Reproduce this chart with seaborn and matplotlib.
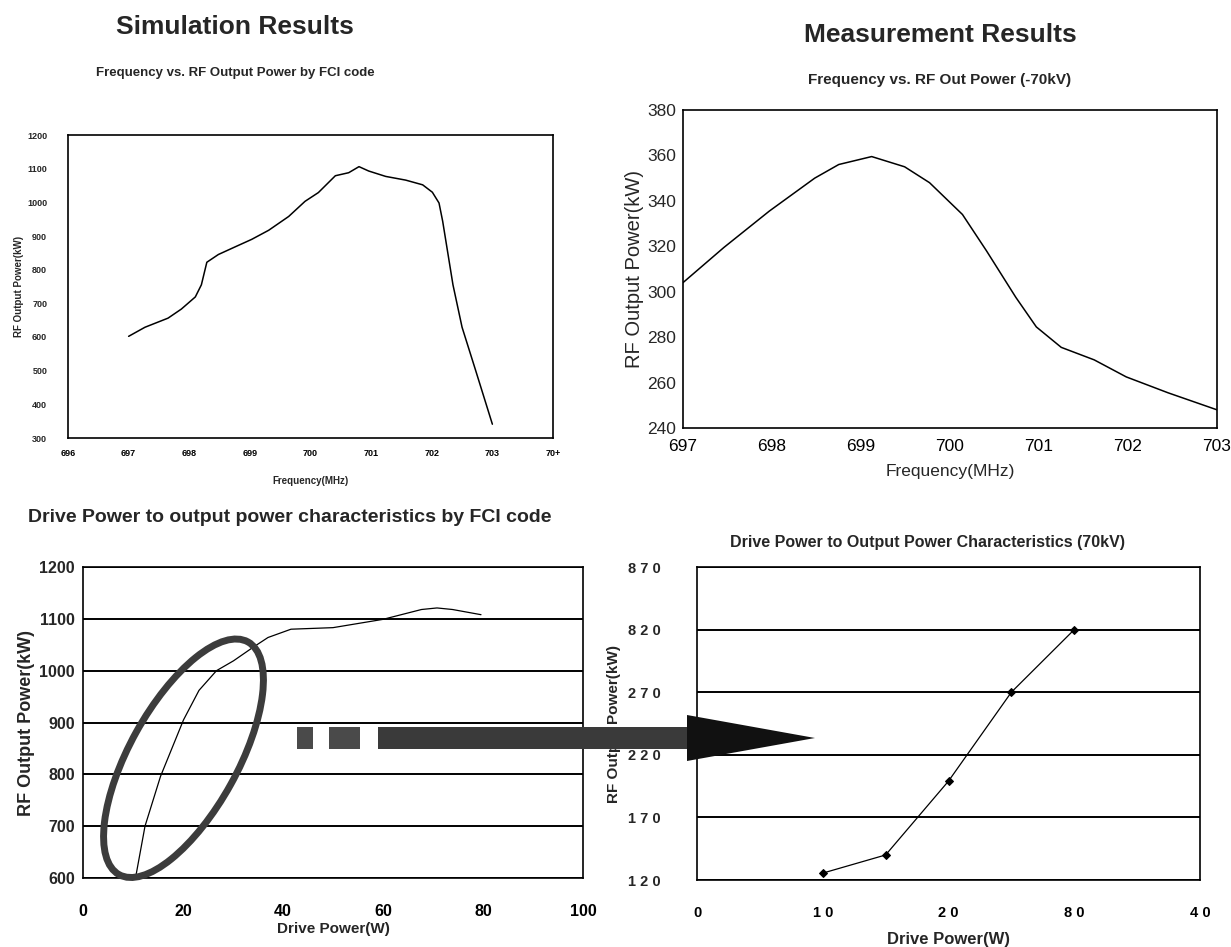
import numpy as np
import pandas as pd
import matplotlib
matplotlib.use("Agg")
import matplotlib.pyplot as plt
import matplotlib.transforms as mtransforms
from matplotlib.patches import Ellipse, Rectangle, Polygon
import seaborn as sns

# ---- data ----
sim_freq = [697.0, 697.27, 697.65, 697.87, 698.1, 698.2, 698.29, 698.48, 698.76, 699.03,
            699.31, 699.64, 699.91, 700.13, 700.41, 700.63, 700.8, 700.96, 701.24, 701.57,
            701.85, 702.01, 702.12, 702.18, 702.35, 702.5, 702.72, 703.0]
sim_power = [602, 629, 656, 683, 719, 755, 822, 845, 868, 890,
             917, 958, 1003, 1029, 1079, 1088, 1106, 1093, 1077, 1066,
             1052, 1030, 998, 944, 755, 629, 503, 341]

meas_freq = [697.0, 697.46, 697.97, 698.48, 698.75, 699.12, 699.49, 699.77, 700.14,
             700.41, 700.74, 700.97, 701.25, 701.62, 701.98, 702.45, 703.0]
meas_power = [304, 319.5, 335.5, 350, 356, 359.5, 355, 348, 334,
              318, 297.5, 284.5, 275.5, 270, 262.5, 255.5, 248]

drive_sim = [10.5, 12.4, 15.5, 20.1, 23.2, 26.7, 30.1, 34, 37, 41.6, 50, 60, 67.7, 70.8, 73.9, 79.6]
out_sim = [600, 700, 796, 905, 962, 1000, 1019, 1045, 1064, 1080, 1083, 1099, 1118, 1121, 1118, 1108]

drive_meas = [10, 15, 20, 25, 30]
out_meas = [125.5, 140, 199, 270, 320]

tl_xticks = [696, 697, 698, 699, 700, 701, 702, 703, 704]
tl_xlabels = ["696", "697", "698", "699", "700", "701", "702", "703", "70+"]
tl_yticks = list(range(300, 1201, 100))
tr_xticks = [697, 698, 699, 700, 701, 702, 703]
tr_yticks = list(range(240, 381, 20))
bl_xticks = [0, 20, 40, 60, 80, 100]
bl_yticks = list(range(600, 1201, 100))
br_xticks = [0, 10, 20, 30, 40]
br_xlabels = ["0", "1 0", "2 0", "8 0", "4 0"]
br_yticks = [120, 170, 220, 270, 320, 370]
br_ylabels = ["1 2 0", "1 7 0", "2 2 0", "2 7 0", "8 2 0", "8 7 0"]

sns.set_theme(style="white")
FONT = ["Liberation Sans", "DejaVu Sans"]
plt.rcParams["font.family"] = FONT
plt.rcParams["axes.edgecolor"] = "black"
plt.rcParams["axes.linewidth"] = 1.2
plt.rcParams["xtick.direction"] = "in"
plt.rcParams["ytick.direction"] = "in"

W, H = 1231, 947
fig = plt.figure(figsize=(W / 100, H / 100), dpi=100, facecolor="white")


def box(l, t, r, b):
    return [l / W, 1 - b / H, (r - l) / W, (b - t) / H]


def style_ticks(ax, size, weight, xpad, ypad):
    for lab in ax.get_xticklabels() + ax.get_yticklabels():
        lab.set_fontsize(size)
        lab.set_fontweight(weight)
    ax.tick_params(axis="x", length=4, width=1, colors="black", pad=xpad)
    ax.tick_params(axis="y", length=0, pad=ypad)


def ftext(x, y, s, **kw):
    fig.text(x / W, 1 - y / H, s, ha="center", va="center", **kw)


# headings
ftext(235, 27, "Simulation Results", fontsize=19, fontweight="bold")
ftext(940, 35, "Measurement Results", fontsize=19, fontweight="bold")

# ---- top left: simulation frequency sweep ----
ax1 = fig.add_axes(box(68, 135, 553, 438))
df1 = pd.DataFrame({"freq": sim_freq, "power": sim_power})
sns.lineplot(data=df1, x="freq", y="power", ax=ax1, color="black", lw=1.1, sort=False)
ax1.set_xlim(696, 704)
ax1.set_ylim(300, 1200)
ax1.set_xticks(tl_xticks, tl_xlabels)
ax1.set_yticks(tl_yticks)
style_ticks(ax1, 6.5, "bold", 8, 15)
ax1.set_xlabel("Frequency(MHz)", fontsize=7, fontweight="bold", labelpad=13)
ax1.set_ylabel("RF Output Power(kW)", fontsize=7, fontweight="bold", labelpad=2)
ftext(235, 73, "Frequency vs. RF Output Power by FCI code", fontsize=9.5, fontweight="bold")

# ---- top right: measured frequency sweep ----
ax2 = fig.add_axes(box(683, 110, 1217, 428))
df2 = pd.DataFrame({"freq": meas_freq, "power": meas_power})
sns.lineplot(data=df2, x="freq", y="power", ax=ax2, color="black", lw=1.1, sort=False)
ax2.set_xlim(697, 703)
ax2.set_ylim(240, 380)
ax2.set_xticks(tr_xticks)
ax2.set_yticks(tr_yticks)
style_ticks(ax2, 12.5, "normal", 8, 5)
ax2.set_xlabel("Frequency(MHz)", fontsize=12.5, labelpad=7)
ax2.set_ylabel("RF Output Power(kW)", fontsize=14.5, labelpad=2)
ftext(940, 80, "Frequency vs. RF Out Power (-70kV)", fontsize=11, fontweight="bold")

# ---- bottom left: simulated drive characteristics ----
ax3 = fig.add_axes(box(83, 567, 583, 878))
df3 = pd.DataFrame({"drive": drive_sim, "out": out_sim})
sns.lineplot(data=df3, x="drive", y="out", ax=ax3, color="black", lw=0.9, sort=False)
ax3.set_xlim(0, 100)
ax3.set_ylim(600, 1200)
ax3.set_xticks(bl_xticks)
ax3.set_yticks(bl_yticks)
ax3.yaxis.grid(True, color="black", lw=1.4)
ax3.set_axisbelow(True)
style_ticks(ax3, 11.5, "bold", 19, 6)
ax3.set_xlabel("Drive Power(W)", fontsize=11, fontweight="bold", labelpad=2)
ax3.set_ylabel("RF Output Power(kW)", fontsize=13, fontweight="bold", labelpad=3)
ftext(290, 517, "Drive Power to output power characteristics by FCI code",
      fontsize=14, fontweight="bold")

# highlight ellipse around the low-drive region (size in inches, placed at a data point)
ell_center = (20.1, 831)
trans = fig.dpi_scale_trans + mtransforms.ScaledTranslation(ell_center[0], ell_center[1], ax3.transData)
ax3.add_patch(Ellipse((0, 0), width=2.66, height=1.08, angle=61, fill=False,
                      edgecolor="#3c3c3c", lw=5, transform=trans, clip_on=False, zorder=5))

# ---- bottom right: measured drive characteristics ----
ax4 = fig.add_axes(box(697, 567, 1200, 880))
df4 = pd.DataFrame({"drive": drive_meas, "out": out_meas})
sns.lineplot(data=df4, x="drive", y="out", ax=ax4, color="black", lw=0.9,
             marker="D", markersize=4, markeredgecolor="black")
ax4.set_xlim(0, 40)
ax4.set_ylim(120, 370)
ax4.set_xticks(br_xticks, br_xlabels)
ax4.set_yticks(br_yticks, br_ylabels)
ax4.yaxis.grid(True, color="black", lw=1.4)
ax4.set_axisbelow(True)
style_ticks(ax4, 10.5, "bold", 19, 26)
ax4.set_xlabel("Drive Power(W)", fontsize=12, fontweight="bold", labelpad=8)
ax4.set_ylabel("RF Output Power(kW)", fontsize=11, fontweight="bold", labelpad=5)
ftext(928, 542, "Drive Power to Output Power Characteristics (70kV)", fontsize=11.5,
      fontweight="bold")

# ---- dashed arrow linking the two bottom charts (figure pixels) ----
def fx(x):
    return x / W


def fy(y):
    return 1 - y / H


for x0, x1, c in [(297, 313, "#4a4a4a"), (329, 360, "#4a4a4a"), (378, 690, "#3a3a3a")]:
    fig.add_artist(Rectangle((fx(x0), fy(749)), fx(x1) - fx(x0), fy(727) - fy(749),
                             transform=fig.transFigure, facecolor=c, edgecolor="none", zorder=10))
fig.add_artist(Polygon([(fx(687), fy(715)), (fx(815), fy(738)), (fx(687), fy(761))],
                       closed=True, transform=fig.transFigure, facecolor="#111111",
                       edgecolor="none", zorder=10))

fig.savefig("out.png", dpi=100, facecolor="white")
